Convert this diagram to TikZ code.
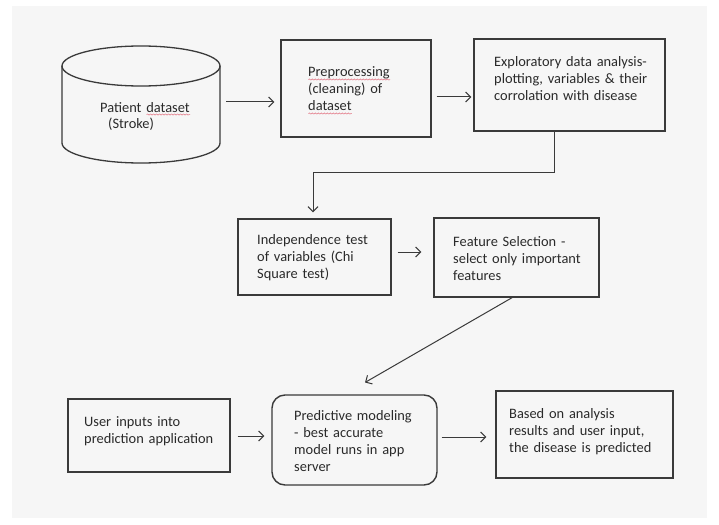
\documentclass[tikz,border=0pt]{standalone}
\usepackage{fontspec}
\setmainfont{Carlito}
\usetikzlibrary{arrows.meta,decorations.pathmorphing}
\definecolor{sqred}{RGB}{225,110,125}
\definecolor{linec}{RGB}{58,58,58}
\definecolor{textc}{RGB}{42,42,42}
\definecolor{bgc}{RGB}{246,246,246}
\newlength\sqlen
\newcommand\redsq[1]{\leavevmode\settowidth\sqlen{#1}\mbox{\rlap{\raisebox{-3.4pt}{\tikz[x=1pt,y=1pt]\draw[sqred,line width=0.5pt,decorate,decoration={snake,amplitude=0.6pt,segment length=3pt}] (0,0) -- (\sqlen,0);}}#1}}
\tikzset{
  box/.style={draw=linec, line width=1.4pt, inner sep=0pt},
  cylline/.style={draw=linec, line width=1.3pt},
  txt/.style={anchor=base west, inner sep=0pt, text width=#1, align=left,
    font=\fontsize{14.4}{17}\selectfont, text=textc},
  arr/.style={draw=linec, line width=1pt, -{Straight Barb[length=5pt,width=10pt]}}
}
\begin{document}
\begin{tikzpicture}[x=1pt,y=-1pt]
\useasboundingbox (0,0) rectangle (719,524);
\fill[white] (0,0) rectangle (719,524);
\fill[bgc] (12,6) rectangle (707,518);

% cylinder (drawn directly) and a named area for it
\node[minimum width=158pt, minimum height=118pt, inner sep=0pt] (db) at (141,102) {};
\draw[cylline] (62,66) -- (62,143) arc[start angle=180, end angle=360, x radius=79pt, y radius=20pt] -- (220,66);
\draw[cylline] (141,66) ellipse [x radius=79pt, y radius=20pt];

% boxes
\node[box, minimum width=150pt, minimum height=97pt] (pre) at (356,88.5) {};
\node[box, minimum width=191pt, minimum height=92pt] (eda) at (569.5,85) {};
\node[box, minimum width=153pt, minimum height=76pt] (ind) at (314.5,257) {};
\node[box, minimum width=165pt, minimum height=79pt] (fs) at (516.5,257.5) {};
\node[box, minimum width=162pt, minimum height=73pt] (ui) at (149,435.5) {};
\node[box, rounded corners=13pt, minimum width=165pt, minimum height=90pt] (pm) at (354.5,440) {};
\node[box, minimum width=177pt, minimum height=87pt] (res) at (584.5,434.5) {};

% texts
\node[txt=120pt] (dbt) at (100,112) {Patient \redsq{dataset}\\\hspace*{8pt}(Stroke)};
\node[txt=120pt] (pret) at (308,77) {\redsq{Preprocessing}\\(cleaning) of\\\redsq{dataset}};
\node[txt=170pt] (edat) at (494,67) {Exploratory data analysis-\\plotting, variables \& their\\corrolation with disease};
\node[txt=135pt] (indt) at (257,244) {Independence test\\of variables (Chi\\Square test)};
\node[txt=145pt] (fst) at (453,246) {Feature Selection -\\select only important\\features};
\node[txt=145pt] (uit) at (84,426) {User inputs into\\prediction application};
\node[txt=140pt] (pmt) at (294,420) {Predictive modeling\\- best accurate\\model runs in app\\server};
\node[txt=160pt] (rest) at (509,418) {Based on analysis\\results and user input,\\the disease is predicted};

% connectors
\draw[arr, shorten <=6pt, shorten >=6pt] (db.east) -- (db.east -| pre.west);
\draw[arr, shorten <=5pt, shorten >=2pt] (pre.east |- 0,97) -- (eda.west |- 0,97);
\draw[arr, shorten >=6pt] (eda.south -| 554,0) |- (313,172) -- (ind.north -| 313,0);
\draw[arr, shorten <=6pt, shorten >=12pt] (ind.east |- 0,252) -- (fs.west |- 0,252);
\draw[arr, shorten >=23.7pt] (fs.south -| 512,0) -- (pm.north -| 344.5,0);
\draw[arr, shorten <=7pt, shorten >=7pt] (ui.east |- 0,436) -- (pm.west |- 0,436);
\draw[arr, shorten <=4pt, shorten >=9pt] (pm.east |- 0,437) -- (res.west |- 0,437);
\end{tikzpicture}
\end{document}
